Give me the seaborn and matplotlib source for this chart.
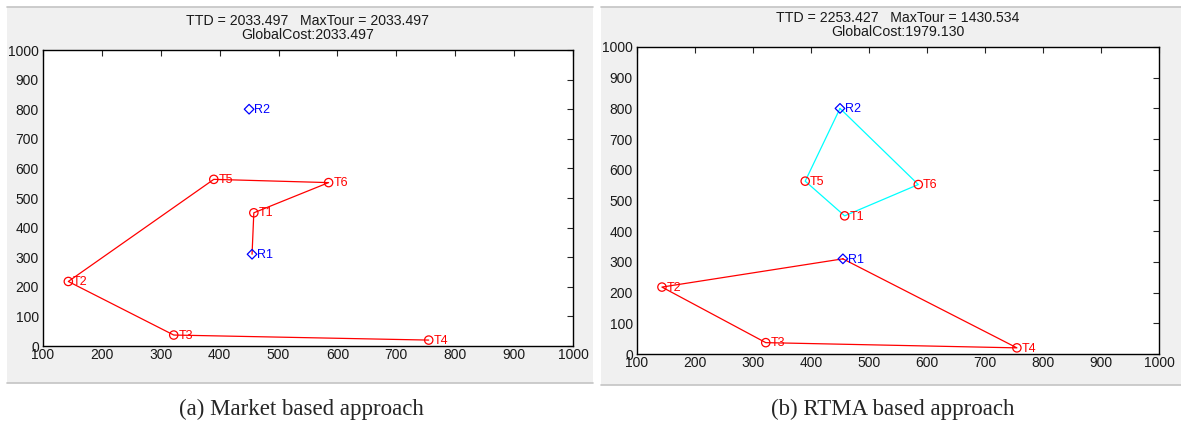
import numpy as np
import pandas as pd
import matplotlib
matplotlib.use("Agg")
import matplotlib.pyplot as plt
from matplotlib.patches import Rectangle
from matplotlib.lines import Line2D
import seaborn as sns

# node positions (same in both panels)
nodes = ['R1', 'R2', 'T1', 'T2', 'T3', 'T4', 'T5', 'T6']
node_x = [455, 450, 458, 143, 322, 755, 390, 585]
node_y = [310, 800, 450, 218, 37, 20, 563, 552]

robots = ['R1', 'R2']
tasks = ['T1', 'T2', 'T3', 'T4', 'T5', 'T6']

# routes
route_a = ['R1', 'T1', 'T6', 'T5', 'T2', 'T3', 'T4']
route_b_red = ['R1', 'T2', 'T3', 'T4', 'R1']
route_b_cyan = ['R2', 'T5', 'T1', 'T6', 'R2']

title_a = "TTD = 2033.497   MaxTour = 2033.497\nGlobalCost:2033.497"
title_b = "TTD = 2253.427   MaxTour = 1430.534\nGlobalCost:1979.130"
caption_a = "(a) Market based approach"
caption_b = "(b) RTMA based approach"

pos = pd.DataFrame({"node": nodes, "x": node_x, "y": node_y}).set_index("node")

sns.set_style("white")
plt.rcParams['font.family'] = ['Liberation Sans', 'DejaVu Sans']

fig = plt.figure(figsize=(11.81, 4.23), dpi=100)
W, H = 1181, 423


def panel_bg(x0, x1, y0, y1):
    fig.patches.append(Rectangle((x0 / W, 1 - y1 / H), (x1 - x0) / W, (y1 - y0) / H,
                                 transform=fig.transFigure, facecolor="#f0f0f0",
                                 edgecolor="none", zorder=-10))
    for yy in (y0, y1):
        fig.lines.append(Line2D([x0 / W, x1 / W], [1 - yy / H, 1 - yy / H],
                                transform=fig.transFigure, color="#c4c4c4", lw=1.2,
                                zorder=-9))


panel_bg(7, 593, 7, 383)
panel_bg(601, 1181, 7, 385)


def draw(ax, routes, title):
    for route, col in routes:
        df = pos.loc[route].reset_index()
        sns.lineplot(data=df, x="x", y="y", sort=False, estimator=None, color=col,
                     lw=0.9, ax=ax)
    t = pos.loc[tasks]
    r = pos.loc[robots]
    sns.scatterplot(x=t["x"], y=t["y"], marker="o", s=36, facecolors="none",
                    edgecolors="red", linewidth=0.9, ax=ax, zorder=3)
    sns.scatterplot(x=r["x"], y=r["y"], marker="D", s=24, facecolors="none",
                    edgecolors="blue", linewidth=0.9, ax=ax, zorder=3)
    for n in nodes:
        col = "blue" if n.startswith("R") else "red"
        ax.annotate(n, (pos.loc[n, "x"], pos.loc[n, "y"]), xytext=(3.5, -0.5),
                    textcoords="offset points", va="center", ha="left",
                    color=col, fontsize=9)
    ax.set_xlim(100, 1000)
    ax.set_ylim(0, 1000)
    ax.set_xticks(range(100, 1001, 100))
    ax.set_yticks(range(0, 1001, 100))
    ax.tick_params(direction="in", length=4, width=0.8, top=True, right=True,
                   labelsize=10, colors="#262626")
    ax.tick_params(axis="both", labelcolor="#1a1a1a")
    ax.tick_params(axis="x", pad=1.5)
    ax.tick_params(axis="y", pad=3)
    for s in ax.spines.values():
        s.set_color("black")
        s.set_linewidth(1.0)
    ax.set_xlabel("")
    ax.set_ylabel("")
    ax.set_title(title, fontsize=10.2, pad=8, linespacing=1.0, color="#1a1a1a")
    ax.set_facecolor("white")


ax_a = fig.add_axes([43 / W, 1 - 346 / H, (573 - 43) / W, (346 - 50) / H])
ax_b = fig.add_axes([637 / W, 1 - 354 / H, (1159 - 637) / W, (354 - 47) / H])

draw(ax_a, [(route_a, "red")], title_a)
draw(ax_b, [(route_b_red, "red"), (route_b_cyan, "cyan")], title_b)

fig.text(301 / W, 1 - 409 / H, caption_a, ha="center", va="center",
         fontsize=16.5, family="Liberation Serif")
fig.text(893 / W, 1 - 409 / H, caption_b, ha="center", va="center",
         fontsize=16.5, family="Liberation Serif")

fig.savefig("out.png", dpi=100)
